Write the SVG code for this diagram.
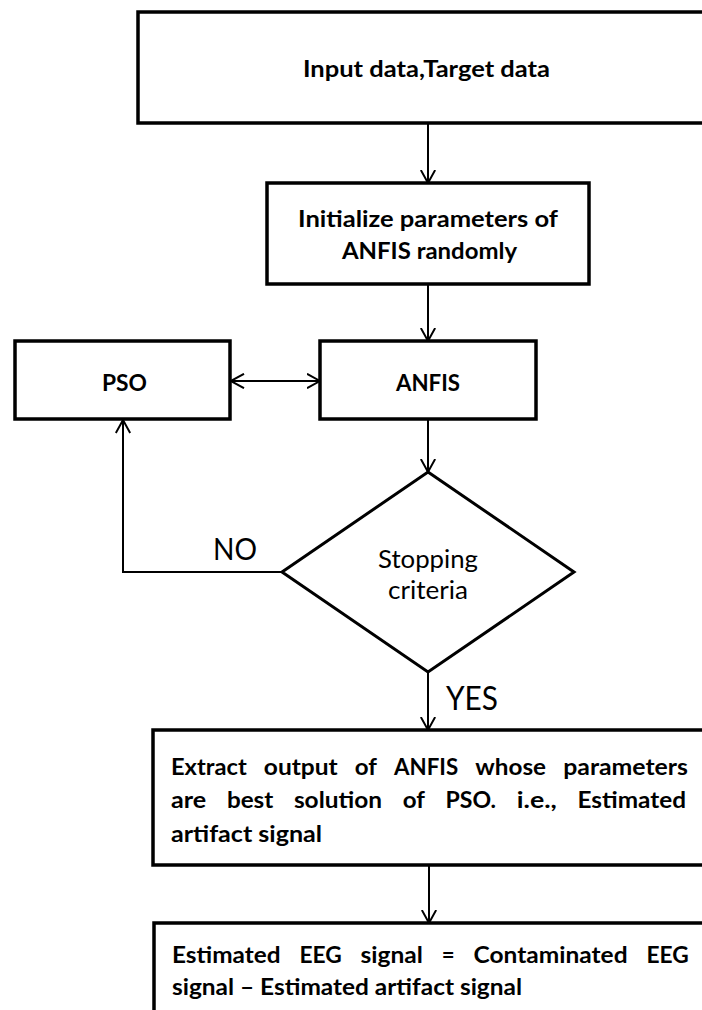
<svg xmlns="http://www.w3.org/2000/svg" width="702" height="1010" viewBox="0 0 702 1010">
<style>
.box{fill:#fff;stroke:#000;stroke-width:3.5}
.dia{fill:#fff;stroke:#000;stroke-width:3}
.con{fill:none;stroke:#000;stroke-width:2}
.b{font-family:Lato,"Liberation Sans",sans-serif;font-weight:700;font-size:23.5px;fill:#000}
.r{font-family:Lato,"Liberation Sans",sans-serif;font-weight:400;fill:#000}
</style>
<defs>
<marker id="ah" viewBox="0 0 14 16" refX="13.5" refY="8" markerWidth="14" markerHeight="16" markerUnits="userSpaceOnUse" orient="auto-start-reverse">
<path d="M0.5,0.8 L13.5,8 L0.5,15.2" fill="none" stroke="#000" stroke-width="2"/>
</marker>
</defs>
<rect width="702" height="1010" fill="#fff"/>
<g id="connectors">
<path class="con" d="M428,124 V183" marker-end="url(#ah)"/>
<path class="con" d="M428,285 V341" marker-end="url(#ah)"/>
<path class="con" d="M231,381 H320" marker-start="url(#ah)" marker-end="url(#ah)"/>
<path class="con" d="M428,420 V472" marker-end="url(#ah)"/>
<path class="con" d="M282,572 H123 V420" marker-end="url(#ah)"/>
<path class="con" d="M428,673 V730" marker-end="url(#ah)"/>
<path class="con" d="M429,866 V923" marker-end="url(#ah)"/>
<text class="r" x="213" y="560" font-size="30" textLength="44" lengthAdjust="spacingAndGlyphs">NO</text>
<text class="r" x="446" y="710" font-size="32" textLength="52" lengthAdjust="spacingAndGlyphs">YES</text>
</g>
<g id="input">
<rect class="box" x="138" y="12" width="590" height="111"/>
<text class="b" x="303" y="77" textLength="247" lengthAdjust="spacingAndGlyphs">Input data,Target data</text>
</g>
<g id="init">
<rect class="box" x="267" y="183" width="322" height="101"/>
<text class="b" x="298" y="227" textLength="260" lengthAdjust="spacingAndGlyphs">Initialize parameters of</text>
<text class="b" x="342" y="259" textLength="175" lengthAdjust="spacingAndGlyphs">ANFIS randomly</text>
</g>
<g id="pso">
<rect class="box" x="15" y="341" width="215" height="78"/>
<text class="b" x="102" y="391" textLength="45" lengthAdjust="spacingAndGlyphs">PSO</text>
</g>
<g id="anfis">
<rect class="box" x="320" y="341" width="216" height="78"/>
<text class="b" x="396" y="391" textLength="64" lengthAdjust="spacingAndGlyphs">ANFIS</text>
</g>
<g id="stop">
<polygon class="dia" points="428,472 574,572 428,672 282,572"/>
<text class="r" x="378" y="568" font-size="25" textLength="100" lengthAdjust="spacingAndGlyphs">Stopping</text>
<text class="r" x="388" y="599" font-size="25" textLength="80" lengthAdjust="spacingAndGlyphs">criteria</text>
</g>
<g id="extract">
<rect class="box" x="153" y="730" width="570" height="135"/>
<text class="b" x="171" y="775" textLength="75.7" lengthAdjust="spacingAndGlyphs">Extract</text>
<text class="b" x="263.8" y="775" textLength="73.9" lengthAdjust="spacingAndGlyphs">output</text>
<text class="b" x="354.8" y="775" textLength="22.2" lengthAdjust="spacingAndGlyphs">of</text>
<text class="b" x="394.1" y="775" textLength="64.1" lengthAdjust="spacingAndGlyphs">ANFIS</text>
<text class="b" x="475.3" y="775" textLength="70.8" lengthAdjust="spacingAndGlyphs">whose</text>
<text class="b" x="563.2" y="775" textLength="124.8" lengthAdjust="spacingAndGlyphs">parameters</text>
<text class="b" x="171" y="808" textLength="35.2" lengthAdjust="spacingAndGlyphs">are</text>
<text class="b" x="226.9" y="808" textLength="46.4" lengthAdjust="spacingAndGlyphs">best</text>
<text class="b" x="293.9" y="808" textLength="88.1" lengthAdjust="spacingAndGlyphs">solution</text>
<text class="b" x="402.7" y="808" textLength="22.2" lengthAdjust="spacingAndGlyphs">of</text>
<text class="b" x="445.5" y="808" textLength="50.6" lengthAdjust="spacingAndGlyphs">PSO.</text>
<text class="b" x="516.8" y="808" textLength="40.1" lengthAdjust="spacingAndGlyphs">i.e.,</text>
<text class="b" x="577.5" y="808" textLength="108.5" lengthAdjust="spacingAndGlyphs">Estimated</text>
<text class="b" x="171" y="842" textLength="151" lengthAdjust="spacingAndGlyphs">artifact signal</text>
</g>
<g id="result">
<rect class="box" x="154" y="923" width="570" height="110"/>
<text class="b" x="172" y="963" textLength="108.5" lengthAdjust="spacingAndGlyphs">Estimated</text>
<text class="b" x="299.4" y="963" textLength="42.3" lengthAdjust="spacingAndGlyphs">EEG</text>
<text class="b" x="360.6" y="963" textLength="62.3" lengthAdjust="spacingAndGlyphs">signal</text>
<text class="b" x="441.8" y="963" textLength="12.9" lengthAdjust="spacingAndGlyphs">=</text>
<text class="b" x="473.6" y="963" textLength="154" lengthAdjust="spacingAndGlyphs">Contaminated</text>
<text class="b" x="646.5" y="963" textLength="42.3" lengthAdjust="spacingAndGlyphs">EEG</text>
<text class="b" x="172" y="995" textLength="350" lengthAdjust="spacingAndGlyphs">signal – Estimated artifact signal</text>
</g>
</svg>
